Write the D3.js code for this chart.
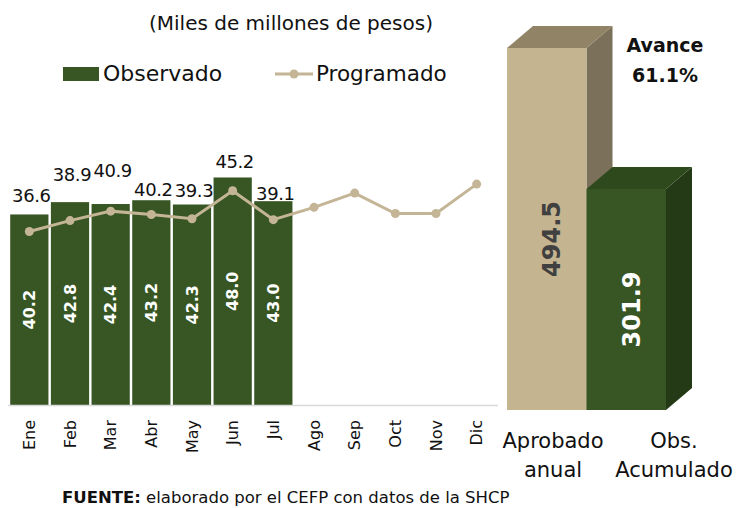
<!DOCTYPE html>
<html>
<head>
<meta charset="utf-8">
<script src="https://cdn.jsdelivr.net/npm/d3@7"></script>
<style>
  body { margin: 0; background: #fff; }
  text { font-family: "DejaVu Sans", sans-serif; }
</style>
</head>
<body>
<svg id="chart" width="739" height="508"></svg>
<script>
// Monthly data (miles de millones de pesos)
const months = ['Ene', 'Feb', 'Mar', 'Abr', 'May', 'Jun', 'Jul', 'Ago', 'Sep', 'Oct', 'Nov', 'Dic'];
const observado = [40.2, 42.8, 42.4, 43.2, 42.3, 48.0, 43.0];
const programado = [36.6, 38.9, 40.9, 40.2, 39.3, 45.2, 39.1, 41.7, 44.7, 40.4, 40.4, 46.6];

// Annual totals
const totalCats = ['Aprobado anual', 'Obs. Acumulado'];
const totalValues = [494.5, 301.9];
const avance = '61.1%';

// extra lift of the programado labels so they don't collide (layout only)
const labelLift = [8, 17, 23, 0, 3, 5, -3];

const green = '#375623';
const tan = '#c4b596';

const svg = d3.select('#chart');

function drawMonthly() {
    const x = d3.scaleBand()
        .domain(months)
        .range([9, 497])
        .paddingInner(0.06)
        .paddingOuter(0.03);

    const y = d3.scaleLinear()
        .domain([0, 50])
        .range([405, 405 - 50 * 4.74]);

    const cx = m => x(m) + x.bandwidth() / 2;

    // bars
    svg.selectAll('.bar')
        .data(observado)
        .enter().append('rect')
            .attr('class', 'bar')
            .attr('x', (d, i) => x(months[i]))
            .attr('y', d => y(d))
            .attr('width', x.bandwidth())
            .attr('height', d => y(0) - y(d))
            .attr('fill', green);

    // axis line
    svg.append('line')
        .attr('x1', 8).attr('x2', 498)
        .attr('y1', y(0) + 0.5).attr('y2', y(0) + 0.5)
        .attr('stroke', '#d9d9d9')
        .attr('stroke-width', 1.5);

    // values inside the bars
    svg.selectAll('.bar-label')
        .data(observado)
        .enter().append('text')
            .attr('class', 'bar-label')
            .attr('transform', (d, i) => `translate(${cx(months[i])},${(y(d) + y(0)) / 2}) rotate(-90)`)
            .attr('text-anchor', 'middle')
            .attr('dy', '0.36em')
            .attr('fill', '#fff')
            .attr('font-weight', 'bold')
            .attr('font-size', 16)
            .text(d => d.toFixed(1));

    // programado line
    const line = d3.line()
        .x((d, i) => cx(months[i]))
        .y(d => y(d));

    svg.append('path')
        .datum(programado)
        .attr('d', line)
        .attr('fill', 'none')
        .attr('stroke', tan)
        .attr('stroke-width', 3);

    svg.selectAll('.dot')
        .data(programado)
        .enter().append('circle')
            .attr('class', 'dot')
            .attr('cx', (d, i) => cx(months[i]))
            .attr('cy', d => y(d))
            .attr('r', 4.5)
            .attr('fill', tan);

    // programado labels (only for months with observed data)
    svg.selectAll('.prog-label')
        .data(programado.slice(0, observado.length))
        .enter().append('text')
            .attr('class', 'prog-label')
            .attr('x', (d, i) => cx(months[i]) + 2)
            .attr('y', (d, i) => Math.min(y(observado[i]), y(d)) - 4 - labelLift[i])
            .attr('text-anchor', 'middle')
            .attr('font-family', '"Liberation Sans", sans-serif')
            .attr('font-size', 18)
            .attr('letter-spacing', -0.4)
            .attr('fill', '#111')
            .text(d => d.toFixed(1));

    // month labels
    svg.selectAll('.month')
        .data(months)
        .enter().append('text')
            .attr('class', 'month')
            .attr('transform', m => `translate(${cx(m)},420) rotate(-90)`)
            .attr('text-anchor', 'end')
            .attr('dy', '0.36em')
            .attr('font-size', 16)
            .attr('fill', '#111')
            .text(m => m);
}

function drawTotals() {
    const x = d3.scaleBand()
        .domain(totalCats)
        .range([507, 666])
        .padding(0);

    const y = d3.scaleLinear()
        .domain([0, 500])
        .range([410, 410 - 500 * 0.732]);

    const dx = 26, dy = 22;
    const w = x.bandwidth();
    const faces = [
        { front: '#c4b48f', side: '#7b7059', top: '#918466', label: '#404040' },
        { front: green, side: '#243a17', top: '#2e4a1d', label: '#fff' }
    ];

    totalCats.forEach((c, i) => {
        const x0 = x(c), x1 = x0 + w;
        const yt = y(totalValues[i]), yb = y(0);
        const g = svg.append('g');
        // side face
        g.append('path')
            .attr('d', `M${x1},${yt}L${x1 + dx},${yt - dy}L${x1 + dx},${yb - dy}L${x1},${yb}Z`)
            .attr('fill', faces[i].side);
        // top face
        g.append('path')
            .attr('d', `M${x0},${yt}L${x0 + dx},${yt - dy}L${x1 + dx},${yt - dy}L${x1},${yt}Z`)
            .attr('fill', faces[i].top);
        // front face
        g.append('rect')
            .attr('x', x0).attr('y', yt)
            .attr('width', w).attr('height', yb - yt)
            .attr('fill', faces[i].front);
        // value
        g.append('text')
            .attr('transform', `translate(${x0 + w / 2 + 5},${(yt + yb) / 2 + 10}) rotate(-90)`)
            .attr('text-anchor', 'middle')
            .attr('dy', '0.36em')
            .attr('font-weight', 'bold')
            .attr('font-size', 24)
            .attr('fill', faces[i].label)
            .text(totalValues[i].toFixed(1));
    });

    // category labels in two lines
    const catLines = [['Aprobado', 'anual'], ['Obs.', 'Acumulado']];
    const catX = [553, 674];
    catLines.forEach((lines, i) => {
        svg.append('text')
            .attr('x', catX[i])
            .attr('y', 448)
            .attr('text-anchor', 'middle')
            .attr('font-size', 21)
            .attr('fill', '#111')
            .selectAll('tspan')
            .data(lines)
            .enter().append('tspan')
                .attr('x', catX[i])
                .attr('dy', (d, j) => j === 0 ? 0 : 29)
                .text(d => d);
    });

    // avance
    svg.append('text')
        .attr('x', 665).attr('y', 52)
        .attr('text-anchor', 'middle')
        .attr('font-weight', 'bold')
        .attr('font-size', 19)
        .attr('fill', '#111')
        .text('Avance');
    svg.append('text')
        .attr('x', 665).attr('y', 82)
        .attr('text-anchor', 'middle')
        .attr('font-weight', 'bold')
        .attr('font-size', 19)
        .attr('fill', '#111')
        .text(avance);
}

function drawTitleAndLegend() {
    svg.append('text')
        .attr('x', 291).attr('y', 30)
        .attr('text-anchor', 'middle')
        .attr('font-size', 20)
        .attr('fill', '#111')
        .text('(Miles de millones de pesos)');

    // Observado
    svg.append('rect')
        .attr('x', 63).attr('y', 67)
        .attr('width', 36).attr('height', 14)
        .attr('fill', green);
    svg.append('text')
        .attr('x', 103).attr('y', 81)
        .attr('font-size', 22)
        .attr('fill', '#111')
        .text('Observado');

    // Programado
    svg.append('line')
        .attr('x1', 275).attr('x2', 313)
        .attr('y1', 74).attr('y2', 74)
        .attr('stroke', tan).attr('stroke-width', 3);
    svg.append('circle')
        .attr('cx', 294).attr('cy', 74).attr('r', 4.5)
        .attr('fill', tan);
    svg.append('text')
        .attr('x', 316).attr('y', 81)
        .attr('font-size', 21.5)
        .attr('fill', '#111')
        .text('Programado');

    // source
    const src = svg.append('text')
        .attr('x', 62).attr('y', 503)
        .attr('font-size', 16.5)
        .attr('fill', '#111');
    src.append('tspan').attr('font-weight', 'bold').text('FUENTE:');
    src.append('tspan').text(' elaborado por el CEFP con datos de la SHCP');
}

drawMonthly();
drawTotals();
drawTitleAndLegend();
</script>
</body>
</html>
